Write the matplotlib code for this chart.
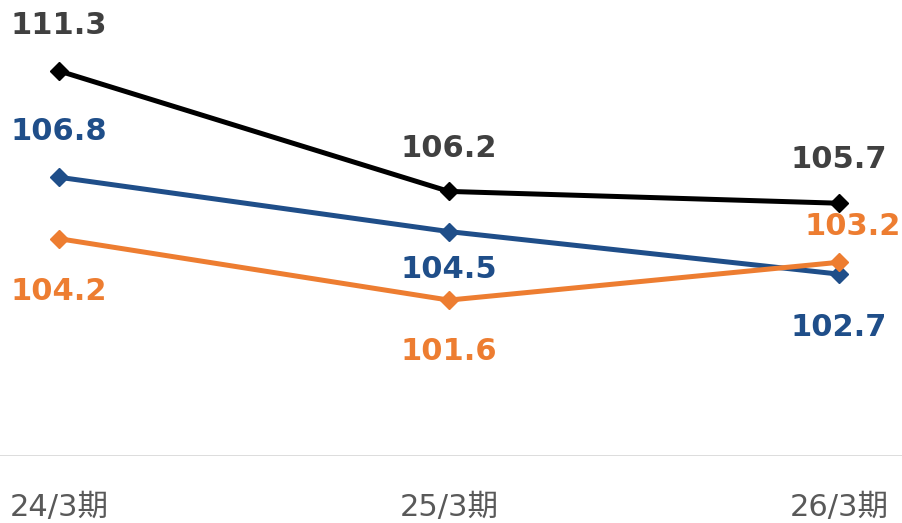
import matplotlib.pyplot as plt

periods = ['24/3期', '25/3期', '26/3期']
series_black = [111.3, 106.2, 105.7]
series_blue = [106.8, 104.5, 102.7]
series_orange = [104.2, 101.6, 103.2]

C_BLACK = '#000000'
C_BLUE = '#1F4E89'
C_ORANGE = '#ED7D31'
C_LABEL_DARK = '#404040'

fig = plt.figure(figsize=(9.02, 5.23), dpi=100)
ax = fig.add_axes([0, 0.128, 1, 0.872])
x = list(range(len(periods)))

ax.plot(x, series_blue, color=C_BLUE, lw=3.6, marker='D', ms=9.5, zorder=3)
ax.plot(x, series_orange, color=C_ORANGE, lw=3.6, marker='D', ms=9.5, zorder=4)
ax.plot(x, series_black, color=C_BLACK, lw=3.6, marker='D', ms=9.5, zorder=5)

# label offsets in pixels (dx, dy) per point
offs_black = [(0, 45), (0, 43), (0, 44)]
offs_blue = [(0, 46), (0, -38), (0, -53)]
offs_orange = [(0, -53), (0, -51), (14, 36)]

for vals, offs, col in [(series_black, offs_black, C_LABEL_DARK),
                        (series_blue, offs_blue, C_BLUE),
                        (series_orange, offs_orange, C_ORANGE)]:
    for i, v in enumerate(vals):
        ax.annotate(f'{v:.1f}', (x[i], v), xytext=offs[i], textcoords='offset pixels',
                    ha='center', va='center', fontsize=22, fontweight='bold',
                    color=col, family=['DejaVu Sans', 'Noto Sans CJK JP'])

ax.set_xlim(-0.151, 2.162)
ax.set_ylim(95.0, 114.3)
ax.axhline(95.0, color='#D9D9D9', lw=2, zorder=1)

for s in ax.spines.values():
    s.set_visible(False)
ax.set_yticks([])
ax.set_xticks(x)
ax.set_xticklabels(periods, fontsize=22, color='#595959',
                   family=['DejaVu Sans', 'Noto Sans CJK JP'])
ax.tick_params(axis='x', length=0, pad=26.5)

fig.savefig('out.png', dpi=100)
